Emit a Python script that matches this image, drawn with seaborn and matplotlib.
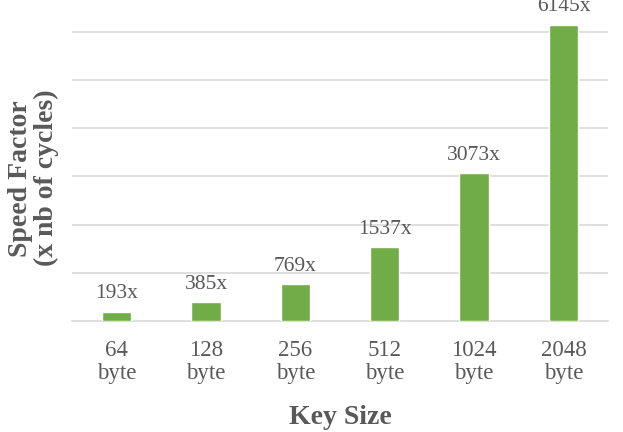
import numpy as np
import matplotlib
matplotlib.use("Agg")
import matplotlib.pyplot as plt
import pandas as pd
import seaborn as sns

# valors llegits del grafic
key_sizes = ["64\nbyte", "128\nbyte", "256\nbyte", "512\nbyte", "1024\nbyte", "2048\nbyte"]
speed = [193, 385, 769, 1537, 3073, 6145]
labels = ["193x", "385x", "769x", "1537x", "3073x", "6145x"]

df = pd.DataFrame({"key": key_sizes, "speed": speed})

sns.set_style("white")
plt.rcParams["font.family"] = ["Liberation Serif", "DejaVu Serif"]

grey = "#595959"
fig = plt.figure(figsize=(6.23, 4.32), dpi=100)
ax = fig.add_axes([0.1156, 0.257, 0.8604, 0.743])

sns.barplot(data=df, x="key", y="speed", color="#70AD47", saturation=1,
            width=0.33, ax=ax, zorder=3)

ax.set_ylim(0, 6660)
ax.set_xlim(-0.5, 5.5)
ax.set_yticks(np.arange(1000, 7000, 1000))
ax.yaxis.grid(True, color="#D9D9D9", linewidth=1.2, zorder=0)
ax.set_yticklabels([])
ax.tick_params(axis="y", length=0)

for s in ["top", "right", "left"]:
    ax.spines[s].set_visible(False)
ax.spines["bottom"].set_color("#D9D9D9")
ax.spines["bottom"].set_linewidth(1.2)

# marques entre categories
ax.set_xticks(np.arange(-0.5, 6, 1), minor=True)
ax.tick_params(axis="x", which="minor", length=6, color="#D9D9D9", width=1.2)
ax.tick_params(axis="x", which="major", length=0, pad=14, labelsize=16.5, labelcolor=grey)
for t in ax.get_xticklabels():
    t.set_linespacing(1.1)

ax.bar_label(ax.containers[0], labels=labels, padding=6, fontsize=15.5, color=grey,
             clip_on=False)

ax.set_xlabel("Key Size", fontsize=20, fontweight="bold", color=grey, labelpad=15)
ax.set_ylabel("Speed Factor\n(x nb of cycles)", fontsize=20, fontweight="bold",
              color=grey, linespacing=1.0)
ax.yaxis.set_label_coords(-0.025, 0.445)

plt.savefig("out.png", dpi=100)
